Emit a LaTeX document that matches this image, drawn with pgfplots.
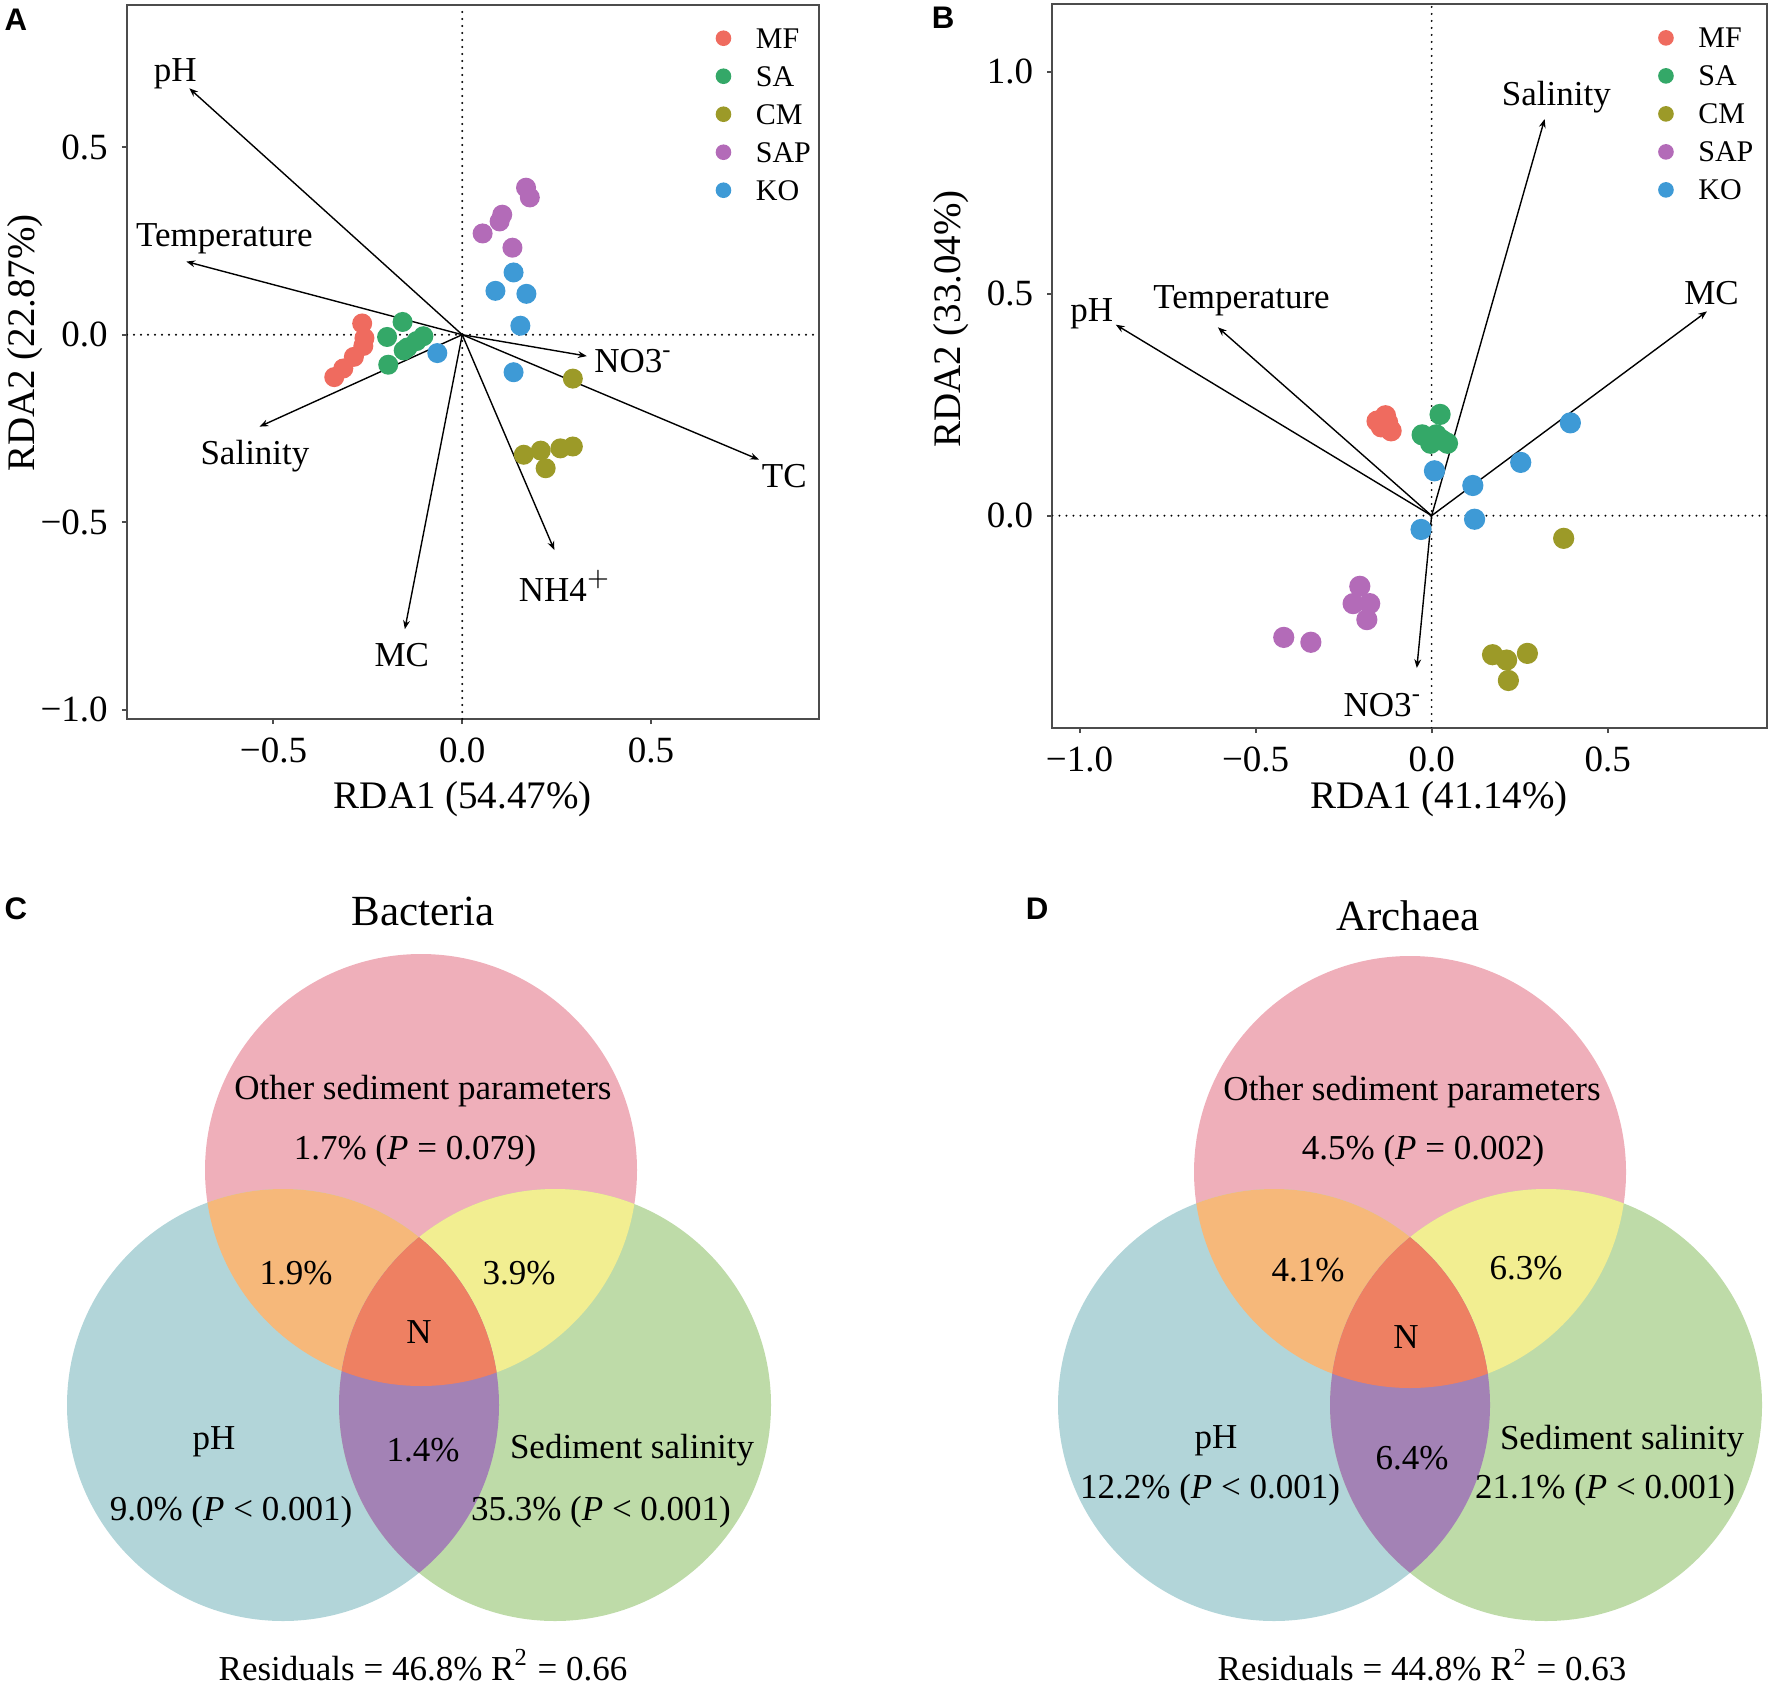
\documentclass[border=0pt]{standalone}
\usepackage{fontspec}
\setmainfont{Liberation Serif}
\newfontfamily\panelfont{Liberation Sans}
\usepackage{pgfplots}
\pgfplotsset{compat=1.18}
\usetikzlibrary{arrows.meta}

\definecolor{cMF}{HTML}{EF6B5F}
\definecolor{cSA}{HTML}{34A868}
\definecolor{cCM}{HTML}{9C9A28}
\definecolor{cSAP}{HTML}{B36BB8}
\definecolor{cKO}{HTML}{3E9AD6}
\definecolor{vpink}{HTML}{EFAFBA}
\definecolor{vblue}{HTML}{B2D5D9}
\definecolor{vgreen}{HTML}{BEDBA8}
\definecolor{vorange}{HTML}{F6B87A}
\definecolor{vyellow}{HTML}{F2EE91}
\definecolor{vred}{HTML}{EE8062}
\definecolor{vpurple}{HTML}{A382B5}

\newcommand\lab{\fontsize{8.75}{10}\selectfont}
\newcommand\vtxt{\fontsize{8.75}{10}\selectfont}
\newcommand\pl{\panelfont\bfseries\fontsize{7.8}{9}\selectfont}

\pgfplotsset{
  rda/.style={
    scale only axis,
    axis line style={draw=black!70, line width=0.5pt},
    tick align=outside,
    major tick length=1.3pt,
    tick style={black!70, line width=0.5pt},
    xtick pos=bottom, ytick pos=left,
    tick label style={font=\fontsize{9.25}{11}\selectfont},
    label style={font=\fontsize{9.75}{12}\selectfont},
    legend cell align=left,
    legend style={draw=none, fill=none, anchor=north west, inner sep=0pt, outer sep=0pt,
      font=\fontsize{7.5}{9}\selectfont, row sep=4.5pt,
      nodes={inner sep=0pt, text height=5pt, text depth=0pt},
      /tikz/every odd column/.append style={column sep=6.35pt}},
  },
  grp/.style={only marks, mark=*, mark size=#1},
  vec/.style={black, line width=0.35pt, -{Stealth[length=2.2pt,width=1.7pt]}, forget plot},
  zl/.style={black, line width=0.55pt, line cap=round, dash pattern=on 0pt off 1.75pt, forget plot},
}

\newcommand\venn[6]{% cx top, cy top, cx left, cy low, cx right, radius
  \fill[vpink] (axis cs:#1,#2) circle[radius=#6];
  \fill[vblue] (axis cs:#3,#4) circle[radius=#6];
  \fill[vgreen] (axis cs:#5,#4) circle[radius=#6];
  \begin{scope}
    \clip (axis cs:#1,#2) circle[radius=#6];
    \fill[vorange] (axis cs:#3,#4) circle[radius=#6];
    \fill[vyellow] (axis cs:#5,#4) circle[radius=#6];
  \end{scope}
  \begin{scope}
    \clip (axis cs:#3,#4) circle[radius=#6];
    \fill[vpurple] (axis cs:#5,#4) circle[radius=#6];
  \end{scope}
  \begin{scope}
    \clip (axis cs:#1,#2) circle[radius=#6];
    \clip (axis cs:#3,#4) circle[radius=#6];
    \fill[vred] (axis cs:#5,#4) circle[radius=#6];
  \end{scope}
}

\begin{document}
\begin{tikzpicture}
\path[use as bounding box] (0pt,0pt) rectangle (443pt,420.5pt);

% Venn diagrams (C, D) and panel letters, in pixel units of the figure
\begin{axis}[hide axis, clip=false, scale only axis, at={(0pt,0pt)}, anchor=south west,
  x=0.25pt, y=0.25pt, xmin=0, xmax=1772, ymin=0, ymax=1682]
  \venn{421}{512}{283}{277}{555}{216}
  \venn{1410}{510}{1274}{277}{1546}{216}

  \node[font=\fontsize{10.75}{12}\selectfont] at (axis cs:423,771) {Bacteria};
  \node[font=\vtxt] at (axis cs:423,591) {Other sediment parameters};
  \node[font=\vtxt] at (axis cs:415,531) {1.7\% (\textit{P} = 0.079)};
  \node[font=\vtxt] at (axis cs:296,409) {1.9\%};
  \node[font=\vtxt] at (axis cs:519,409) {3.9\%};
  \node[font=\vtxt] at (axis cs:419,350) {N};
  \node[font=\vtxt] at (axis cs:214,240) {pH};
  \node[font=\vtxt] at (axis cs:423,232) {1.4\%};
  \node[font=\vtxt] at (axis cs:632,232) {Sediment salinity};
  \node[font=\vtxt] at (axis cs:231,170) {9.0\% (\textit{P} < 0.001)};
  \node[font=\vtxt] at (axis cs:601,170) {35.3\% (\textit{P} < 0.001)};
  \node[font=\vtxt] at (axis cs:423,17) {Residuals = 46.8\% R\textsuperscript{2} = 0.66};

  \node[font=\fontsize{10.75}{12}\selectfont] at (axis cs:1408,766) {Archaea};
  \node[font=\vtxt] at (axis cs:1412,590) {Other sediment parameters};
  \node[font=\vtxt] at (axis cs:1423,531) {4.5\% (\textit{P} = 0.002)};
  \node[font=\vtxt] at (axis cs:1308,412) {4.1\%};
  \node[font=\vtxt] at (axis cs:1526,414) {6.3\%};
  \node[font=\vtxt] at (axis cs:1406,345) {N};
  \node[font=\vtxt] at (axis cs:1216,241) {pH};
  \node[font=\vtxt] at (axis cs:1412,224) {6.4\%};
  \node[font=\vtxt] at (axis cs:1622,241) {Sediment salinity};
  \node[font=\vtxt] at (axis cs:1210,192) {12.2\% (\textit{P} < 0.001)};
  \node[font=\vtxt] at (axis cs:1605,192) {21.1\% (\textit{P} < 0.001)};
  \node[font=\vtxt] at (axis cs:1422,17) {Residuals = 44.8\% R\textsuperscript{2} = 0.63};

  \node[font=\pl] at (axis cs:16,1662) {A};
  \node[font=\pl] at (axis cs:943,1664) {B};
  \node[font=\pl] at (axis cs:16,773) {C};
  \node[font=\pl] at (axis cs:1037,773) {D};
\end{axis}

% Panel A
\begin{axis}[rda, at={(31.75pt,240.75pt)}, anchor=south west,
  width=173.1pt, height=178.4pt,
  xmin=-0.888, xmax=0.946, ymin=-1.0245, ymax=0.878,
  xtick={-0.5,0,0.5}, xticklabels={−0.5,0.0,0.5},
  ytick={-1,-0.5,0,0.5}, yticklabels={−1.0,−0.5,0.0,0.5},
  xlabel={RDA1 (54.47\%)}, ylabel={RDA2 (22.87\%)},
  xlabel style={at={(axis description cs:0.485,-0.112)}, anchor=center},
  ylabel style={at={(axis description cs:-0.1473,0.527)}, anchor=center},
  legend style={at={(axis description cs:0.8514,0.968)}},
  legend image code/.code={\draw[#1,mark size=1.75pt] plot coordinates {(0pt,0pt)};},
]
  \addplot[zl] coordinates {(-0.888,0) (0.946,0)};
  \addplot[zl] coordinates {(0,-1.0245) (0,0.878)};
  \addplot[grp=2.3pt, cMF, mark options={fill=cMF, draw=cMF}] coordinates {
    (-0.265,0.030) (-0.259,-0.009) (-0.262,-0.030) (-0.287,-0.059) (-0.315,-0.090) (-0.339,-0.113)};
  \addlegendentry{MF}
  \addplot[grp=2.3pt, cSA, mark options={fill=cSA, draw=cSA}] coordinates {
    (-0.158,0.034) (-0.199,-0.006) (-0.103,-0.004) (-0.121,-0.017) (-0.145,-0.034) (-0.155,-0.042) (-0.196,-0.080)};
  \addlegendentry{SA}
  \addplot[grp=2.3pt, cCM, mark options={fill=cCM, draw=cCM}] coordinates {
    (0.293,-0.117) (0.163,-0.320) (0.208,-0.309) (0.260,-0.303) (0.293,-0.298) (0.221,-0.356)};
  \addlegendentry{CM}
  \addplot[grp=2.3pt, cSAP, mark options={fill=cSAP, draw=cSAP}] coordinates {
    (0.169,0.392) (0.179,0.366) (0.106,0.320) (0.099,0.302) (0.054,0.270) (0.133,0.232)};
  \addlegendentry{SAP}
  \addplot[grp=2.3pt, cKO, mark options={fill=cKO, draw=cKO}] coordinates {
    (-0.066,-0.049) (0.136,0.166) (0.088,0.117) (0.170,0.109) (0.154,0.024) (0.136,-0.100)};
  \addlegendentry{KO}
  \addplot[vec] coordinates {(0,0) (-0.723,0.657)};
  \addplot[vec] coordinates {(0,0) (-0.731,0.195)};
  \addplot[vec] coordinates {(0,0) (-0.537,-0.245)};
  \addplot[vec] coordinates {(0,0) (-0.152,-0.785)};
  \addplot[vec] coordinates {(0,0) (0.244,-0.574)};
  \addplot[vec] coordinates {(0,0) (0.786,-0.333)};
  \addplot[vec] coordinates {(0,0) (0.330,-0.057)};
  \node[font=\lab] at (axis cs:-0.760,0.696) {pH};
  \node[font=\lab] at (axis cs:-0.630,0.255) {Temperature};
  \node[font=\lab] at (axis cs:-0.549,-0.323) {Salinity};
  \node[font=\lab] at (axis cs:-0.160,-0.855) {MC};
  \node[font=\lab, anchor=base west, inner sep=0pt] at (axis cs:0.148,-0.710) {NH4$^{+}$};
  \node[font=\lab] at (axis cs:0.853,-0.378) {TC};
  \node[font=\lab, anchor=base west, inner sep=0pt] at (axis cs:0.348,-0.102) {NO3\textsuperscript{-}};
\end{axis}

% Panel B
\begin{axis}[rda, at={(263.1pt,238.5pt)}, anchor=south west,
  width=178.6pt, height=181pt,
  xmin=-1.077, xmax=0.952, ymin=-0.478, ymax=1.152,
  xtick={-1,-0.5,0,0.5}, xticklabels={−1.0,−0.5,0.0,0.5},
  ytick={0,0.5,1}, yticklabels={0.0,0.5,1.0},
  xlabel={RDA1 (41.14\%)}, ylabel={RDA2 (33.04\%)},
  xlabel style={at={(axis description cs:0.541,-0.098)}, anchor=center},
  ylabel style={at={(axis description cs:-0.142,0.565)}, anchor=center},
  legend style={at={(axis description cs:0.849,0.967)}},
  legend image code/.code={\draw[#1,mark size=1.75pt] plot coordinates {(0pt,0pt)};},
]
  \addplot[zl] coordinates {(-1.077,0) (0.952,0)};
  \addplot[zl] coordinates {(0,-0.478) (0,1.152)};
  \addplot[grp=2.45pt, cMF, mark options={fill=cMF, draw=cMF}] coordinates {
    (-0.155,0.213) (-0.131,0.225) (-0.143,0.200) (-0.115,0.191) (-0.125,0.210)};
  \addlegendentry{MF}
  \addplot[grp=2.45pt, cSA, mark options={fill=cSA, draw=cSA}] coordinates {
    (0.024,0.228) (-0.027,0.182) (-0.003,0.163) (0.045,0.163) (0.013,0.182) (0.030,0.170)};
  \addlegendentry{SA}
  \addplot[grp=2.45pt, cCM, mark options={fill=cCM, draw=cCM}] coordinates {
    (0.375,-0.051) (0.173,-0.313) (0.213,-0.325) (0.272,-0.310) (0.218,-0.371)};
  \addlegendentry{CM}
  \addplot[grp=2.45pt, cSAP, mark options={fill=cSAP, draw=cSAP}] coordinates {
    (-0.204,-0.159) (-0.223,-0.198) (-0.176,-0.198) (-0.184,-0.234) (-0.420,-0.274) (-0.343,-0.285)};
  \addlegendentry{SAP}
  \addplot[grp=2.45pt, cKO, mark options={fill=cKO, draw=cKO}] coordinates {
    (0.394,0.209) (0.253,0.120) (0.117,0.068) (0.008,0.101) (0.122,-0.008) (-0.030,-0.031)};
  \addlegendentry{KO}
  \addplot[vec] coordinates {(0,0) (-0.897,0.430)};
  \addplot[vec] coordinates {(0,0) (-0.607,0.424)};
  \addplot[vec] coordinates {(0,0) (0.321,0.893)};
  \addplot[vec] coordinates {(0,0) (0.782,0.460)};
  \addplot[vec] coordinates {(0,0) (-0.042,-0.343)};
  \node[font=\lab] at (axis cs:-0.965,0.454) {pH};
  \node[font=\lab] at (axis cs:-0.540,0.484) {Temperature};
  \node[font=\lab] at (axis cs:0.354,0.943) {Salinity};
  \node[font=\lab] at (axis cs:0.795,0.502) {MC};
  \node[font=\lab, anchor=base west, inner sep=0pt] at (axis cs:-0.252,-0.452) {NO3\textsuperscript{-}};
\end{axis}
\end{tikzpicture}
\end{document}
